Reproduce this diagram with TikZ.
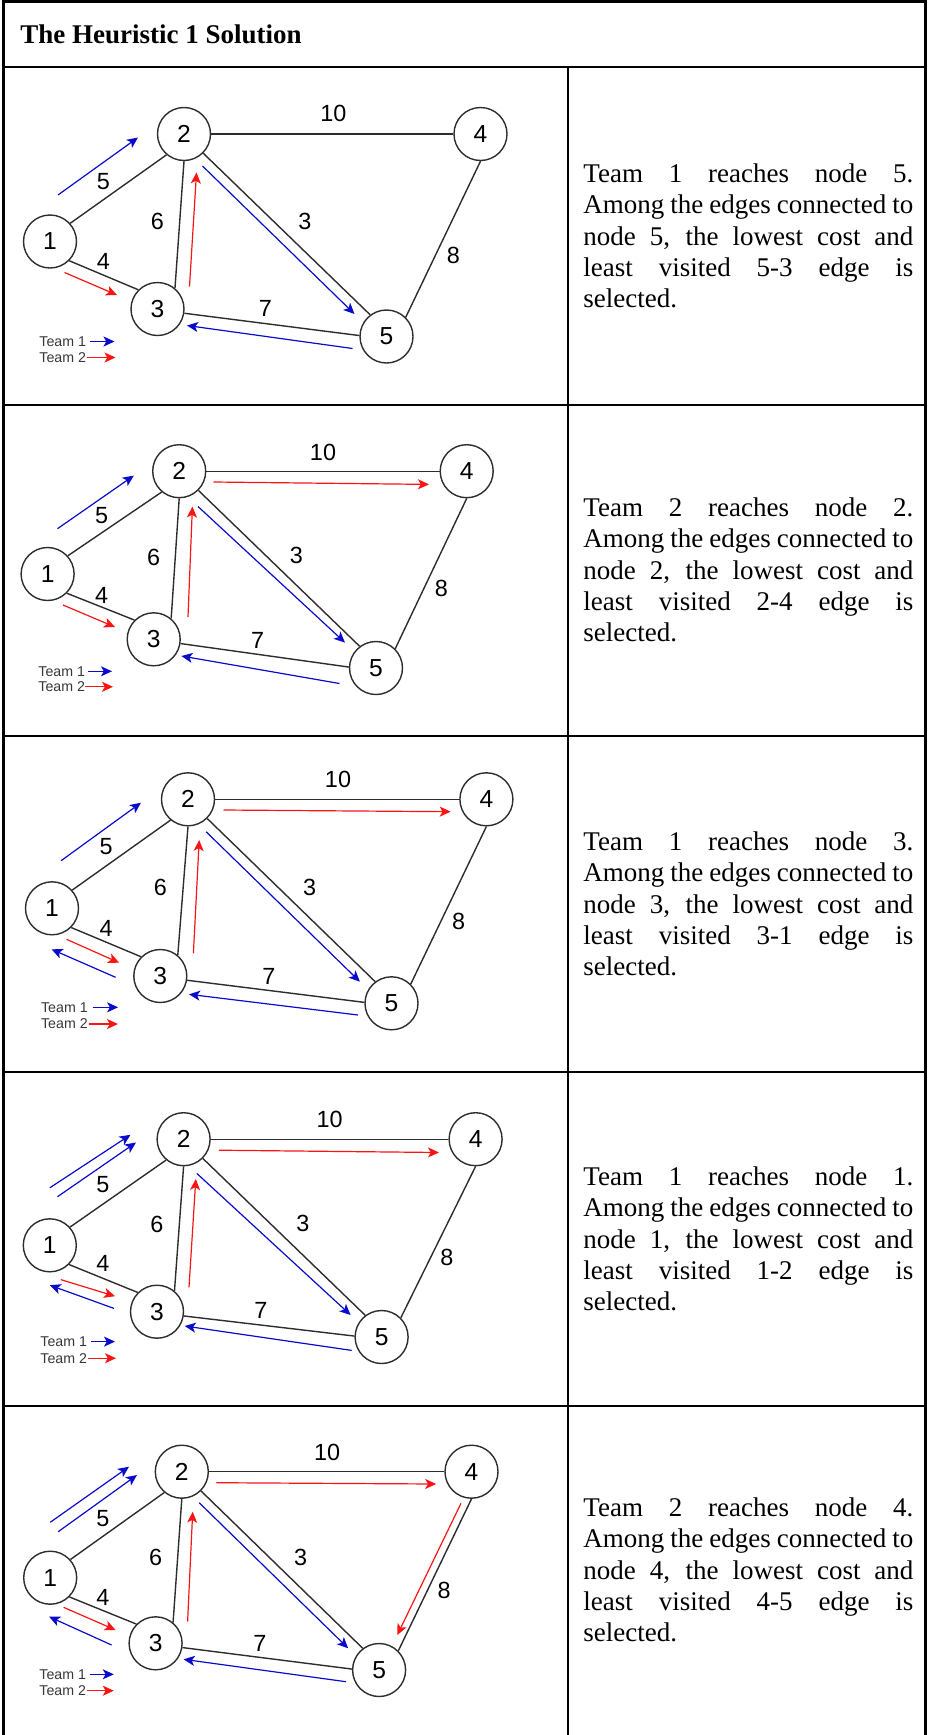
\documentclass[tikz,border=0pt]{standalone}
\usepackage{fontspec}
\setmainfont{Liberation Serif}
\setsansfont{Liberation Sans}
\usetikzlibrary{arrows.meta}

\definecolor{tblue}{RGB}{10,10,205}
\definecolor{tred}{RGB}{250,20,20}
\definecolor{edgegray}{RGB}{45,45,45}
\definecolor{legendgray}{RGB}{55,55,55}

\tikzset{
  rule/.style={line width=1.25pt, line cap=rect},
  gnode/.style={circle, draw=edgegray, line width=0.7pt, minimum size=26.5pt, inner sep=0pt,
    font=\sffamily\fontsize{12.3}{12.3}\selectfont},
  gedge/.style={draw=edgegray, line width=0.7pt},
  wlabel/.style={font=\sffamily\fontsize{11.7}{11.7}\selectfont, inner sep=0pt},
  team1/.style={draw=tblue, line width=0.6pt, -{Stealth[length=5.5pt,width=5pt,inset=1.4pt]}},
  team2/.style={draw=tred, line width=0.6pt, -{Stealth[length=5.5pt,width=5pt,inset=1.4pt]}},
  legtext/.style={font=\sffamily\fontsize{7.1}{7.1}\selectfont, text=legendgray, inner sep=0pt, anchor=west},
  desc/.style={anchor=west, align=left, inner sep=0pt, font=\fontsize{13.5}{15.6}\selectfont},
}
\newcommand{\jline}[1]{\makebox[165pt][s]{#1}}
% the seven weighted edges of one graph copy; #1 is the node-name prefix
\newcommand{\graphedges}[1]{%
  \draw[gedge] (#1n1.42)  -- (#1n2.230);
  \draw[gedge] (#1n1.-45) -- (#1n3.135);
  \draw[gedge] (#1n2.270) -- (#1n3.50);
  \draw[gedge] (#1n2)     -- (#1n4);
  \draw[gedge] (#1n2.-45) -- (#1n5.127);
  \draw[gedge] (#1n3.-9)  -- (#1n5.178);
  \draw[gedge] (#1n4.270) -- (#1n5.45);
}

\begin{document}
\begin{tikzpicture}[x=0.5pt,y=-0.5pt]
\useasboundingbox (0,0) rectangle (929,1735);

% ---------- table grid ----------
\draw[rule] (3.5,1.5) -- (925.5,1.5);
\draw[rule] (3.5,1.5) -- (3.5,1735);
\draw[rule] (925.5,1.5) -- (925.5,1735);
\draw[rule] (3.5,67) -- (925.5,67);
\draw[rule] (568,67) -- (568,1735);
\foreach \yy in {405,736,1072,1406} \draw[rule] (3.5,\yy) -- (925.5,\yy);

\node[anchor=base west, inner sep=0pt, font=\bfseries\fontsize{13.5}{15}\selectfont] (title) at (20,43) {The Heuristic 1 Solution};

% ---------- row 1 ----------
\node[gnode] (p1n1) at (50,241.5) {1};
\node[gnode] (p1n2) at (184,134) {2};
\node[gnode] (p1n3) at (157.5,309) {3};
\node[gnode] (p1n4) at (480.5,134) {4};
\node[gnode] (p1n5) at (386.5,336.5) {5};
\graphedges{p1}
\node[wlabel] (p1w24) at (333.5,113.5) {10};
\node[wlabel] (p1w12) at (103.5,181.5) {5};
\node[wlabel] (p1w23) at (157.5,221.5) {6};
\node[wlabel] (p1w25) at (305,221.5) {3};
\node[wlabel] (p1w13) at (103.5,261.5) {4};
\node[wlabel] (p1w45) at (453.5,255) {8};
\node[wlabel] (p1w35) at (265.5,308.5) {7};
\coordinate (p1a) at (58,195);    \coordinate (p1b) at (138,137.5);
\coordinate (p1c) at (64.5,272.5);\coordinate (p1d) at (117,295);
\coordinate (p1e) at (189.5,286.5);\coordinate (p1f) at (196.5,172.5);
\coordinate (p1g) at (202.5,166); \coordinate (p1h) at (354.5,314);
\coordinate (p1i) at (352.5,348.5);\coordinate (p1j) at (187,325.5);
\draw[team1] (p1a) -- (p1b);
\draw[team2] (p1c) -- (p1d);
\draw[team2] (p1e) -- (p1f);
\draw[team1] (p1g) -- (p1h);
\draw[team1] (p1i) -- (p1j);
\node[legtext] (p1l1) at (39,341.5) {Team 1};
\node[legtext] (p1l2) at (39,357.5) {Team 2};
\coordinate (p1k) at (90,341.5);  \coordinate (p1l) at (114.5,341.5);
\coordinate (p1m) at (87,357.5);  \coordinate (p1o) at (115.5,357.5);
\draw[team1] (p1k) -- (p1l);
\draw[team2] (p1m) -- (p1o);
\node[desc] (p1txt) at (583,236) {\jline{Team 1 reaches node 5.}\\\jline{Among the edges connected to}\\\jline{node 5, the lowest cost and}\\\jline{least visited 5-3 edge is}\\selected.};

% ---------- row 2 ----------
\node[gnode] (p2n1) at (47.6,574) {1};
\node[gnode] (p2n2) at (179.2,471.2) {2};
\node[gnode] (p2n3) at (153.7,639.3) {3};
\node[gnode] (p2n4) at (466.7,471.2) {4};
\node[gnode] (p2n5) at (376,668) {5};
\graphedges{p2}
\node[wlabel] (p2w24) at (323,452.4) {10};
\node[wlabel] (p2w12) at (101.7,515.4) {5};
\node[wlabel] (p2w23) at (153.7,557.4) {6};
\node[wlabel] (p2w25) at (296.4,555.2) {3};
\node[wlabel] (p2w13) at (101.7,595) {4};
\node[wlabel] (p2w45) at (441.3,588.4) {8};
\node[wlabel] (p2w35) at (257.7,640.4) {7};
\coordinate (p2a) at (57.5,528.7); \coordinate (p2b) at (133.8,475.6);
\coordinate (p2c) at (63,605);     \coordinate (p2d) at (115,627);
\coordinate (p2e) at (188,617);    \coordinate (p2f) at (192.4,506.5);
\coordinate (p2g) at (198,506.5);  \coordinate (p2h) at (345,642.6);
\coordinate (p2i) at (339.5,683.5);\coordinate (p2j) at (181.4,656);
\coordinate (p2p) at (213.5,482);  \coordinate (p2q) at (429,484.4);
\draw[team1] (p2a) -- (p2b);
\draw[team2] (p2c) -- (p2d);
\draw[team2] (p2e) -- (p2f);
\draw[team1] (p2g) -- (p2h);
\draw[team1] (p2i) -- (p2j);
\draw[team2] (p2p) -- (p2q);
\node[legtext] (p2l1) at (38,671.3) {Team 1};
\node[legtext] (p2l2) at (38,686.8) {Team 2};
\coordinate (p2k) at (88,671.3);  \coordinate (p2l) at (112,671.3);
\coordinate (p2m) at (85,686.8);  \coordinate (p2o) at (113,686.8);
\draw[team1] (p2k) -- (p2l);
\draw[team2] (p2m) -- (p2o);
\node[desc] (p2txt) at (583,570) {\jline{Team 2 reaches node 2.}\\\jline{Among the edges connected to}\\\jline{node 2, the lowest cost and}\\\jline{least visited 2-4 edge is}\\selected.};

% ---------- row 3 ----------
\node[gnode] (p3n1) at (52,908.3) {1};
\node[gnode] (p3n2) at (188,799.3) {2};
\node[gnode] (p3n3) at (160.3,976) {3};
\node[gnode] (p3n4) at (486.4,799.3) {4};
\node[gnode] (p3n5) at (391.5,1003.3) {5};
\graphedges{p3}
\node[wlabel] (p3w24) at (338,779.3) {10};
\node[wlabel] (p3w12) at (106.1,846.7) {5};
\node[wlabel] (p3w23) at (160.3,887.7) {6};
\node[wlabel] (p3w25) at (309.7,887.7) {3};
\node[wlabel] (p3w13) at (106.1,928.3) {4};
\node[wlabel] (p3w45) at (458.7,921.7) {8};
\node[wlabel] (p3w35) at (269,976) {7};
\coordinate (p3a) at (61.1,860.7);  \coordinate (p3b) at (141,802.7);
\coordinate (p3c) at (66.5,939.3);  \coordinate (p3d) at (119.2,962.7);
\coordinate (p3e) at (193.4,953.3); \coordinate (p3f) at (199.2,840);
\coordinate (p3g) at (206.1,831.7); \coordinate (p3h) at (359.9,981.7);
\coordinate (p3i) at (358,1015);    \coordinate (p3j) at (189,994.3);
\coordinate (p3p) at (223.5,810);   \coordinate (p3q) at (450.7,811.7);
\coordinate (p3r) at (115.6,977.3); \coordinate (p3s) at (51.6,949.3);
\draw[team1] (p3a) -- (p3b);
\draw[team2] (p3c) -- (p3d);
\draw[team2] (p3e) -- (p3f);
\draw[team1] (p3g) -- (p3h);
\draw[team1] (p3i) -- (p3j);
\draw[team2] (p3p) -- (p3q);
\draw[team1] (p3r) -- (p3s);
\node[legtext] (p3l1) at (40.7,1007.3) {Team 1};
\node[legtext] (p3l2) at (40.7,1024) {Team 2};
\coordinate (p3k) at (92.7,1007.3); \coordinate (p3l) at (118.1,1007.3);
\coordinate (p3m) at (89,1024);     \coordinate (p3o) at (118,1024);
\draw[team1] (p3k) -- (p3l);
\draw[team2] (p3m) -- (p3o);
\node[desc] (p3txt) at (583,904) {\jline{Team 1 reaches node 3.}\\\jline{Among the edges connected to}\\\jline{node 3, the lowest cost and}\\\jline{least visited 3-1 edge is}\\selected.};

% ---------- row 4 ----------
\node[gnode] (p4n1) at (49.8,1245.3) {1};
\node[gnode] (p4n2) at (183.6,1139.2) {2};
\node[gnode] (p4n3) at (157,1311.7) {3};
\node[gnode] (p4n4) at (475.6,1139.2) {4};
\node[gnode] (p4n5) at (381.6,1337) {5};
\graphedges{p4}
\node[wlabel] (p4w24) at (329.6,1119.3) {10};
\node[wlabel] (p4w12) at (102.9,1184.5) {5};
\node[wlabel] (p4w23) at (157,1224.3) {6};
\node[wlabel] (p4w25) at (303,1223.2) {3};
\node[wlabel] (p4w13) at (102.9,1263) {4};
\node[wlabel] (p4w45) at (446.8,1257.5) {8};
\node[wlabel] (p4w35) at (261,1310.6) {7};
\coordinate (p4a) at (49.8,1187.8);  \coordinate (p4b) at (130.5,1134.8);
\coordinate (p4t) at (57.5,1196.7);  \coordinate (p4u) at (136,1142.5);
\coordinate (p4c) at (60.8,1279.6);  \coordinate (p4d) at (115,1296.2);
\coordinate (p4e) at (189,1287.4);   \coordinate (p4f) at (195.8,1179);
\coordinate (p4g) at (196.9,1173.5); \coordinate (p4h) at (350.6,1315);
\coordinate (p4i) at (351.7,1350.4); \coordinate (p4j) at (184.7,1326);
\coordinate (p4p) at (219,1150.2);   \coordinate (p4q) at (439,1152.5);
\coordinate (p4r) at (114,1308.4);   \coordinate (p4s) at (49.8,1285.2);
\draw[team1] (p4a) -- (p4b);
\draw[team1] (p4t) -- (p4u);
\draw[team2] (p4c) -- (p4d);
\draw[team2] (p4e) -- (p4f);
\draw[team1] (p4g) -- (p4h);
\draw[team1] (p4i) -- (p4j);
\draw[team2] (p4p) -- (p4q);
\draw[team1] (p4r) -- (p4s);
\node[legtext] (p4l1) at (40,1341.6) {Team 1};
\node[legtext] (p4l2) at (40,1358.2) {Team 2};
\coordinate (p4k) at (91,1341.6);  \coordinate (p4l) at (115,1341.6);
\coordinate (p4m) at (88,1358.2);  \coordinate (p4o) at (116,1358.2);
\draw[team1] (p4k) -- (p4l);
\draw[team2] (p4m) -- (p4o);
\node[desc] (p4txt) at (583,1239) {\jline{Team 1 reaches node 1.}\\\jline{Among the edges connected to}\\\jline{node 1, the lowest cost and}\\\jline{least visited 1-2 edge is}\\selected.};

% ---------- row 5 ----------
\node[gnode] (p5n1) at (50.2,1577.7) {1};
\node[gnode] (p5n2) at (181.8,1471.7) {2};
\node[gnode] (p5n3) at (155.6,1643.3) {3};
\node[gnode] (p5n4) at (471.5,1471.7) {4};
\node[gnode] (p5n5) at (379.1,1670) {5};
\graphedges{p5}
\node[wlabel] (p5w24) at (327.2,1452.7) {10};
\node[wlabel] (p5w12) at (102.9,1518.3) {5};
\node[wlabel] (p5w23) at (155.6,1557.3) {6};
\node[wlabel] (p5w25) at (300.6,1557.3) {3};
\node[wlabel] (p5w13) at (102.9,1597.3) {4};
\node[wlabel] (p5w45) at (444.2,1590.7) {8};
\node[wlabel] (p5w35) at (259.9,1643.3) {7};
\coordinate (p5a) at (50.2,1522.3);  \coordinate (p5b) at (129,1466.7);
\coordinate (p5t) at (58.2,1531.7);  \coordinate (p5u) at (137,1475);
\coordinate (p5c) at (63.6,1607.3);  \coordinate (p5d) at (115.6,1630);
\coordinate (p5e) at (187.6,1621.7); \coordinate (p5f) at (192.7,1511.7);
\coordinate (p5g) at (199.2,1502.7); \coordinate (p5h) at (348.2,1648.3);
\coordinate (p5i) at (346,1681.7);   \coordinate (p5j) at (183.6,1659.3);
\coordinate (p5p) at (216.3,1482.7); \coordinate (p5q) at (436.2,1484);
\coordinate (p5r) at (111.6,1645);   \coordinate (p5s) at (49.1,1616.7);
\coordinate (p5v) at (461,1503.3);   \coordinate (p5w) at (397.3,1635);
\draw[team1] (p5a) -- (p5b);
\draw[team1] (p5t) -- (p5u);
\draw[team2] (p5c) -- (p5d);
\draw[team2] (p5e) -- (p5f);
\draw[team1] (p5g) -- (p5h);
\draw[team1] (p5i) -- (p5j);
\draw[team2] (p5p) -- (p5q);
\draw[team1] (p5r) -- (p5s);
\draw[team2] (p5v) -- (p5w);
\node[legtext] (p5l1) at (39,1674.3) {Team 1};
\node[legtext] (p5l2) at (39,1690.7) {Team 2};
\coordinate (p5k) at (89.8,1674.3); \coordinate (p5l) at (113.8,1674.3);
\coordinate (p5m) at (87,1690.7);   \coordinate (p5o) at (113.8,1690.7);
\draw[team1] (p5k) -- (p5l);
\draw[team2] (p5m) -- (p5o);
\node[desc] (p5txt) at (583,1570) {\jline{Team 2 reaches node 4.}\\\jline{Among the edges connected to}\\\jline{node 4, the lowest cost and}\\\jline{least visited 4-5 edge is}\\selected.};

\end{tikzpicture}
\end{document}
